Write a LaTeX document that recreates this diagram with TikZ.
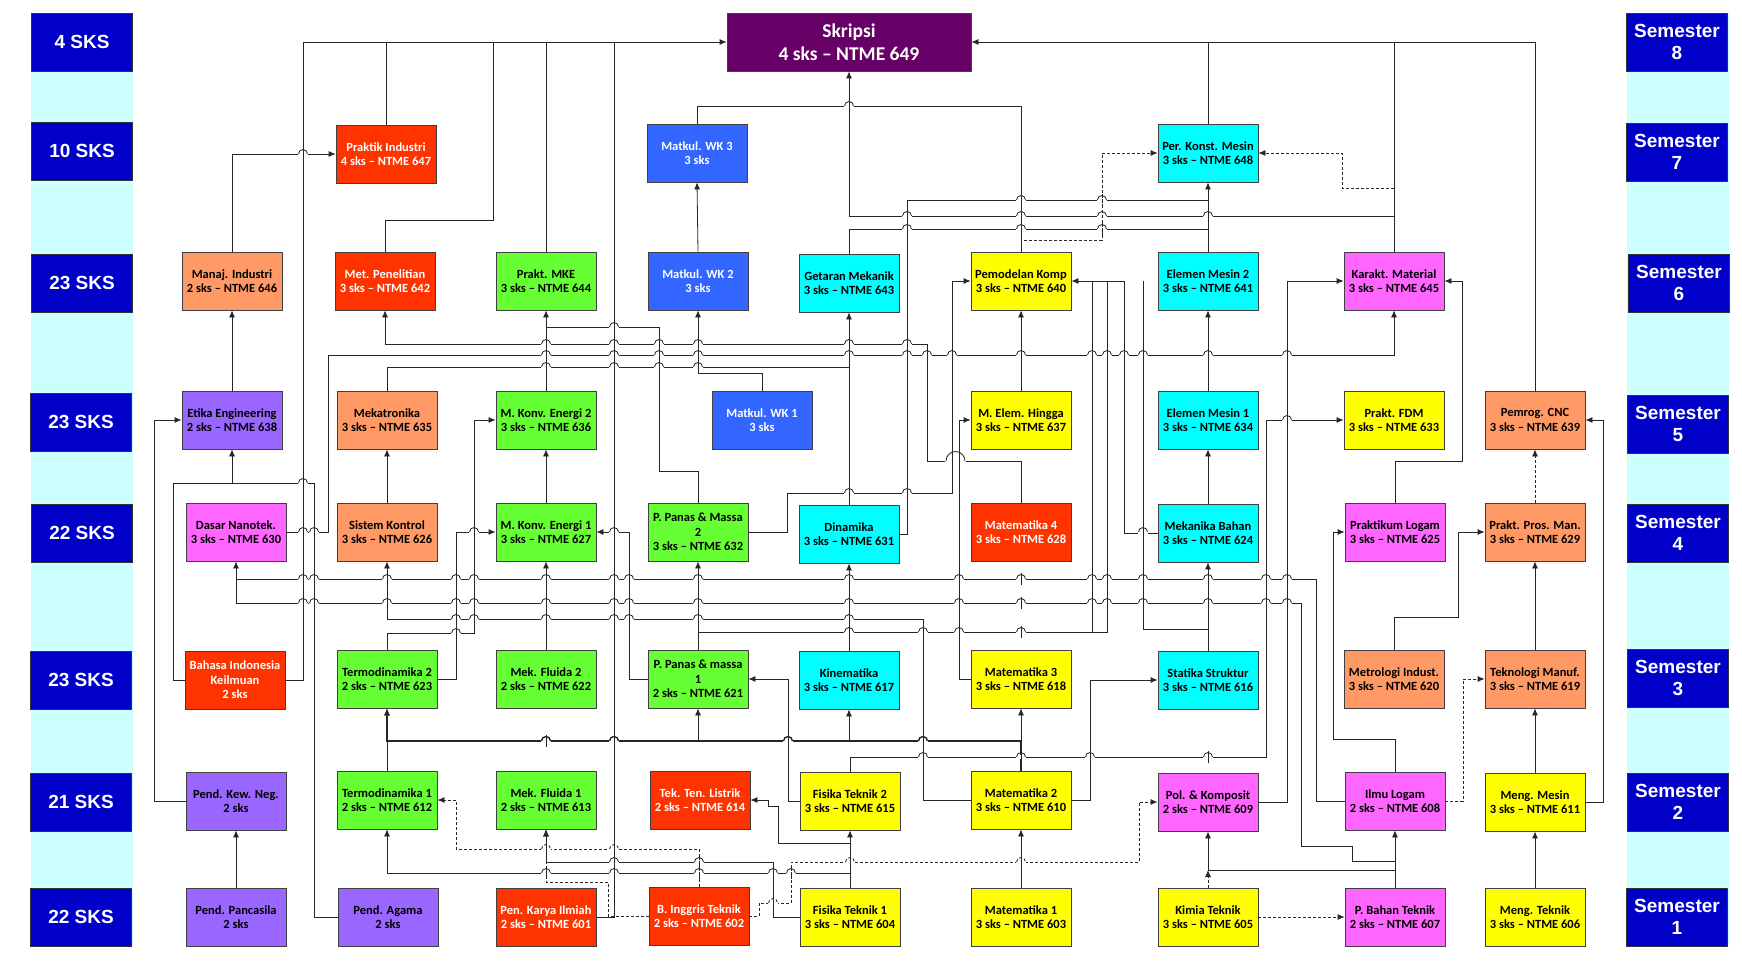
\documentclass[tikz,border=0pt]{standalone}
\usepackage{fontspec}
\setmainfont{Carlito}
\newfontfamily\semfont{Liberation Sans}
\usetikzlibrary{arrows.meta}
\definecolor{semblue}{HTML}{0000C8}
\definecolor{stripcyan}{HTML}{CCFFFF}
\definecolor{cred}{HTML}{FF3300}
\definecolor{corange}{HTML}{FF9966}
\definecolor{cgreen}{HTML}{66FF33}
\definecolor{cblue}{HTML}{3366FF}
\definecolor{ccyan}{HTML}{00FFFF}
\definecolor{cyellow}{HTML}{FFFF00}
\definecolor{cpink}{HTML}{FF66FF}
\definecolor{cviolet}{HTML}{9966FF}
\definecolor{cplum}{HTML}{660066}
\newcommand{\jump}[4]{%
    \fill[white] ({#1-5.2},{#2-1.8}) rectangle ({#1+5.2},{#2+1.8});
    \draw[#4] (#1,{#2-6}) -- (#1,{#2+6});
    \draw[#3] ({#1-4.5},#2) arc[start angle=180, end angle=360, radius=4.5];}

\begin{document}
\begin{tikzpicture}[x=1pt,y=-1pt,
    course/.style={draw=black!75, line width=0.8pt, minimum width=100pt, minimum height=58pt,
        inner sep=1pt, align=center, font=\fontsize{12.5}{14.5}\selectfont\bfseries},
    redbox/.style={course, fill=cred, text=white},
    orangebox/.style={course, fill=corange},
    greenbox/.style={course, fill=cgreen},
    bluebox/.style={course, fill=cblue, text=white},
    cyanbox/.style={course, fill=ccyan},
    yellowbox/.style={course, fill=cyellow},
    pinkbox/.style={course, fill=cpink},
    violetbox/.style={course, fill=cviolet},
    sem/.style={draw=black!80, line width=0.8pt, fill=semblue, text=white, minimum width=101pt,
        minimum height=58pt, inner sep=0pt, align=center, font=\semfont\fontsize{19}{22}\selectfont\bfseries},
    ln/.style={line width=0.8pt, draw=black!85},
    dln/.style={ln, dash pattern=on 3pt off 2pt},
    thk/.style={ln, line width=1.4pt},
    arr/.style={ln, -{Latex[length=7pt,width=6pt]}},
    darr/.style={arr, dash pattern=on 3pt off 2pt},
    ]
            \useasboundingbox[fill=white] (0,0) rectangle (1742,963);
            \fill[stripcyan] (31,13) rectangle (133,946);
            \fill[stripcyan] (1627,13) rectangle (1729,946);

            \node[sem] (k8) at (82,42) {4 SKS};
            \node[sem] (k7) at (82,151) {10 SKS};
            \node[sem] (k6) at (82,283) {23 SKS};
            \node[sem] (k5) at (81,422) {23 SKS};
            \node[sem] (k4) at (82,533) {22 SKS};
            \node[sem] (k3) at (81,680) {23 SKS};
            \node[sem] (k2) at (81,802) {21 SKS};
            \node[sem] (k1) at (81,917) {22 SKS};

            \node[sem] (s8) at (1677,42) {Semester\\8};
            \node[sem] (s7) at (1677,152) {Semester\\7};
            \node[sem] (s6) at (1679,283) {Semester\\6};
            \node[sem] (s5) at (1678,424) {Semester\\5};
            \node[sem] (s4) at (1678,533) {Semester\\4};
            \node[sem] (s3) at (1678,678) {Semester\\3};
            \node[sem] (s2) at (1678,802) {Semester\\2};
            \node[sem] (s1) at (1677,917) {Semester\\1};

            \node[course, fill=cplum, text=white, minimum width=244pt, font=\fontsize{19.5}{22.5}\selectfont\bfseries] (m649) at (849,42) {Skripsi\\4 sks -- NTME 649};

            \node[orangebox] (m646) at (232,281) {Manaj. Industri\\2 sks -- NTME 646};
            \node[violetbox] (m638) at (232,420) {Etika Engineering\\2 sks -- NTME 638};
            \node[pinkbox] (m630) at (236,532) {Dasar Nanotek.\\3 sks -- NTME 630};
            \node[redbox] (bind) at (235,680) {Bahasa Indonesia\\Keilmuan\\2 sks};
            \node[violetbox] (pkn) at (236,801) {Pend. Kew. Neg.\\2 sks};
            \node[violetbox] (ppan) at (236,917) {Pend. Pancasila\\2 sks};

            \node[redbox] (m647) at (386,154) {Praktik Industri\\4 sks -- NTME 647};
            \node[redbox] (m642) at (385,281) {Met. Penelitian\\3 sks -- NTME 642};
            \node[orangebox] (m635) at (387,420) {Mekatronika\\3 sks -- NTME 635};
            \node[orangebox] (m626) at (387,532) {Sistem Kontrol\\3 sks -- NTME 626};
            \node[greenbox] (m623) at (387,679) {Termodinamika 2\\2 sks -- NTME 623};
            \node[greenbox] (m612) at (387,800) {Termodinamika 1\\2 sks -- NTME 612};
            \node[violetbox] (pag) at (388,917) {Pend. Agama\\2 sks};

            \node[greenbox] (m644) at (546,281) {Prakt. MKE\\3 sks -- NTME 644};
            \node[greenbox] (m636) at (546,420) {M. Konv. Energi 2\\3 sks -- NTME 636};
            \node[greenbox] (m627) at (546,532) {M. Konv. Energi 1\\3 sks -- NTME 627};
            \node[greenbox] (m622) at (546,679) {Mek. Fluida 2\\2 sks -- NTME 622};
            \node[greenbox] (m613) at (546,800) {Mek. Fluida 1\\2 sks -- NTME 613};
            \node[redbox] (m601) at (546,917) {Pen. Karya Ilmiah\\2 sks -- NTME 601};

            \node[bluebox] (wk3) at (697,153) {Matkul. WK 3\\3 sks};
            \node[bluebox] (wk2) at (698,281) {Matkul. WK 2\\3 sks};
            \node[bluebox] (wk1) at (762,420) {Matkul. WK 1\\3 sks};
            \node[greenbox] (m632) at (698,532) {P. Panas \& Massa\\2\\3 sks -- NTME 632};
            \node[greenbox] (m621) at (698,679) {P. Panas \& massa\\1\\2 sks -- NTME 621};
            \node[redbox] (m614) at (700,800) {Tek. Ten. Listrik\\2 sks -- NTME 614};
            \node[redbox] (m602) at (699,916) {B. Inggris Teknik\\2 sks -- NTME 602};

            \node[cyanbox] (m643) at (849,283) {Getaran Mekanik\\3 sks -- NTME 643};
            \node[cyanbox] (m631) at (849,534) {Dinamika\\3 sks -- NTME 631};
            \node[cyanbox] (m617) at (849,680) {Kinematika\\3 sks -- NTME 617};
            \node[yellowbox] (m615) at (850,801) {Fisika Teknik 2\\3 sks -- NTME 615};
            \node[yellowbox] (m604) at (850,917) {Fisika Teknik 1\\3 sks -- NTME 604};

            \node[yellowbox] (m640) at (1021,281) {Pemodelan Komp\\3 sks -- NTME 640};
            \node[yellowbox] (m637) at (1021,420) {M. Elem. Hingga\\3 sks -- NTME 637};
            \node[redbox] (m628) at (1021,532) {Matematika 4\\3 sks -- NTME 628};
            \node[yellowbox] (m618) at (1021,679) {Matematika 3\\3 sks -- NTME 618};
            \node[yellowbox] (m610) at (1021,800) {Matematika 2\\3 sks -- NTME 610};
            \node[yellowbox] (m603) at (1021,917) {Matematika 1\\3 sks -- NTME 603};

            \node[cyanbox] (m648) at (1208,153) {Per. Konst. Mesin\\3 sks -- NTME 648};
            \node[cyanbox] (m641) at (1208,281) {Elemen Mesin 2\\3 sks -- NTME 641};
            \node[cyanbox] (m634) at (1208,420) {Elemen Mesin 1\\3 sks -- NTME 634};
            \node[cyanbox] (m624) at (1208,533) {Mekanika Bahan\\3 sks -- NTME 624};
            \node[cyanbox] (m616) at (1208,680) {Statika Struktur\\3 sks -- NTME 616};
            \node[pinkbox] (m609) at (1208,802) {Pol. \& Komposit\\2 sks -- NTME 609};
            \node[yellowbox] (m605) at (1208,917) {Kimia Teknik\\3 sks -- NTME 605};

            \node[pinkbox] (m645) at (1394,281) {Karakt. Material\\3 sks -- NTME 645};
            \node[yellowbox] (m633) at (1394,420) {Prakt. FDM\\3 sks -- NTME 633};
            \node[pinkbox] (m625) at (1395,532) {Praktikum Logam\\3 sks -- NTME 625};
            \node[orangebox] (m620) at (1394,679) {Metrologi Indust.\\3 sks -- NTME 620};
            \node[pinkbox] (m608) at (1395,801) {Ilmu Logam\\2 sks -- NTME 608};
            \node[pinkbox] (m607) at (1395,917) {P. Bahan Teknik\\2 sks -- NTME 607};

            \node[orangebox] (m639) at (1535,420) {Pemrog. CNC\\3 sks -- NTME 639};
            \node[orangebox] (m629) at (1535,532) {Prakt. Pros. Man.\\3 sks -- NTME 629};
            \node[orangebox] (m619) at (1535,679) {Teknologi Manuf.\\3 sks -- NTME 619};
            \node[yellowbox] (m611) at (1535,802) {Meng. Mesin\\3 sks -- NTME 611};
            \node[yellowbox] (m606) at (1535,917) {Meng. Teknik\\3 sks -- NTME 606};

            \draw[arr] (bind.east) -| (303,42) -- (m649.west);
            \draw[ln] (m647.north) -- (m647.north |- m649.west);
            \draw[ln] (m642.north) |- (493,220) -- (493,42);
            \draw[ln] (m644.north) -- (m644.north |- m649.west);
            \draw[ln] (m601.east) -| (614,42);
            \draw[arr] (m639.north) |- (m649.east);
            \draw[ln] (m648.north) -- (m648.north |- m649.east);
            \draw[ln] (m645.north) -- (m645.north |- m649.east);
            \draw[arr] (1394,216) -| (m649.south);

            \draw[arr] (m646.north) |- (m647.west);
            \draw[arr] (m638.north) -- (m646.south);
            \draw[arr] (pag.west) -| (314,483) -| (m638.south);
            \draw[ln] (bind.west) -| (173,483) -- (232,483);
            \draw[arr] (pkn.west) -| (154,420) -- (m638.west);
            \draw[arr] (ppan.north) -- (pkn.south);

            \draw[arr] (m626.north) -- (m635.south);
            \draw[arr] (m628.north) |- (927,461) |- (385,344) -- (m642.south);
            \draw[arr] (m630.east) -| (328,355) -| (m645.south);
            \draw[ln] (m635.north) |- (849,367);
            \draw[arr] (m631.north) -- (m643.south);
            \draw[arr] (wk1.north) |- (698,373) -- (wk2.south);
            \draw[arr] (wk2.north) -- (wk3.south);
            \draw[ln] (m640.north) |- (697,106) -- (wk3.north);

            \draw[arr] (m636.north) -- (m644.south);
            \draw[ln] (m632.north) |- (659,471) |- (546,327);
            \draw[arr] (m627.north) -- (m636.south);
            \draw[arr] (m623.north) |- (474,633) |- (m636.west);
            \draw[arr] (m623.east) -| (456,532) -- (m627.west);
            \draw[arr] (m621.west) -| (629,532) -- (m627.east);
            \draw[arr] (m622.north) -- (m627.south);
            \draw[arr] (m621.north) -- (m632.south);
            \draw[arr] (m632.east) -| (787,493) -| (952,281) -- (m640.west);
            \draw[arr] (m618.west) -| (959,420) -- (m637.west);
            \draw[arr] (m617.north) -- (m631.south);

            \draw[ln] (m631.east) -| (907,200) -- (1208,200);
            \draw[ln] (m643.north) |- (1208,229);
            \draw[arr] (m641.north) -- (m648.south);
            \draw[darr] (m640.north) |- (1102,240) |- (m648.west);
            \draw[darr] (1394,188) -| (1342,153) -- (m648.east);

            \draw[arr] (m637.north) -- (m640.south);
            \draw[arr] (m624.west) -| (1124,281) -- (m640.east);
            \draw[ln] (m616.north) |- (1143,629) -- (1143,281);
            \draw[arr] (m616.north) -- (m624.south);
            \draw[ln] (m621.north) |- (1107,632) -- (1107,281);
            \draw[ln] (1092,632) -- (1092,281);
            \draw[arr] (m624.north) -- (m634.south);
            \draw[arr] (m634.north) -- (m641.south);

            \draw[arr] (m615.north) |- (1266,757) |- (m633.west);
            \draw[arr] (m609.east) -| (1287,281) -- (m645.west);
            \draw[arr] (m625.north) |- (1462,461) |- (m645.east);
            \draw[arr] (m608.north) |- (1333,739) |- (m625.west);
            \draw[arr] (m620.north) |- (1458,617) |- (m629.west);
            \draw[arr] (m619.north) -- (m629.south);
            \draw[darr] (m629.north) -- (m639.south);
            \draw[arr] (m611.east) -| (1603,420) -- (m639.east);
            \draw[arr] (m606.north) -- (m611.south);
            \draw[arr] (m611.north) -- (m619.south);
            \draw[darr] (m608.east) -| (1463,679) -- (m619.west);
            \draw[arr] (m607.north) -- (m608.south);
            \draw[arr] (m607.north) |- (1208,870) -- (m609.south);
            \draw[darr] (m605.north) -- (1208,870);
            \draw[darr] (m605.east) -- (m607.west);

            \draw[arr] (m608.west) -| (1316,579) -| (m630.south);
            \draw[ln] (1395,861) -| (1352,846) -| (1301,603) -| (236,579);
            \draw[arr] (m610.west) -| (923,619) -| (m626.south);
            \draw[arr, line width=1.4pt] (m610.north) -- (1021,741) -| (m623.south);
            \draw[arr] (698,741) -- (m621.south);
            \draw[arr] (849,741) -- (m617.south);
            \draw[arr] (m610.north) -- (m618.south);
            \draw[arr] (m612.north) -- (m623.south);
            \draw[arr] (m603.north) -- (m610.south);

            \draw[arr] (m604.north) |- (387,873) -- (m612.south);
            \draw[arr] (m604.north) -- (m615.south);
            \draw[arr] (850,843) -| (778,806) -| (768,800) -- (m614.east);
            \draw[arr] (m604.west) -| (773,862) -| (m613.south);
            \draw[arr] (m615.west) -| (788,679) -- (m621.east);
            \draw[arr] (m610.east) -| (1090,680) -- (m616.west);

            \draw[darr] (m602.north) |- (456,849) |- (m612.east);
            \draw[darr] (m602.west) -| (608,882) -| (m613.south);
            \draw[darr] (m602.east) -| (759,903) -| (791,862) -| (1139,802) -- (m609.west);

            \foreach \x/\y in {849/106, 303/154, 1021/200, 907/216, 1021/216, 1208/216, 907/229, 1021/229,
                614/327, 546/344, 614/344, 659/344, 698/344, 849/344, 907/344,
                546/355, 614/355, 659/355, 698/355, 849/355, 907/355, 927/355, 952/355, 1021/355,
                1092/355, 1107/355, 1124/355, 1143/355, 1208/355, 1287/355,
                546/367, 614/367, 659/367, 698/367, 1287/420, 303/483, 849/493, 907/493,
                303/532, 314/532, 474/532, 614/532, 1143/532,
                456/619, 474/619, 546/619, 614/619, 629/619, 698/619, 849/619,
                456/633, 849/632, 923/632, 959/632, 1021/632,
                923/757, 1021/757, 1090/757, 1208/757, 614/862, 546/873, 614/873, 773/873}
                {\jump{\x}{\y}{ln}{ln}}
            \foreach \x in {303, 314, 387, 456, 474, 546, 614, 629, 698, 849, 959, 1021, 1092, 1107, 1143, 1208, 1266, 1287}
                {\jump{\x}{579}{ln}{ln} \jump{\x}{603}{ln}{ln}}
            \foreach \x in {546, 614, 788, 923}
                {\jump{\x}{741}{thk}{ln}}
            \foreach \x/\y in {1102/200, 1102/216, 1102/229, 699/862, 699/873, 791/873}
                {\jump{\x}{\y}{ln}{dln}}
            \foreach \x/\y in {546/849, 614/849, 850/862, 1021/862, 773/903}
                {\jump{\x}{\y}{dln}{ln}}
            \fill[white] (945,459.2) rectangle (966,462.8);
            \draw[ln] (952,455) -- (952,467);
            \draw[ln] (959,455) -- (959,467);
            \draw[ln] (946,461) arc[start angle=180, end angle=360, radius=9.5];
        \end{tikzpicture}
\end{document}
